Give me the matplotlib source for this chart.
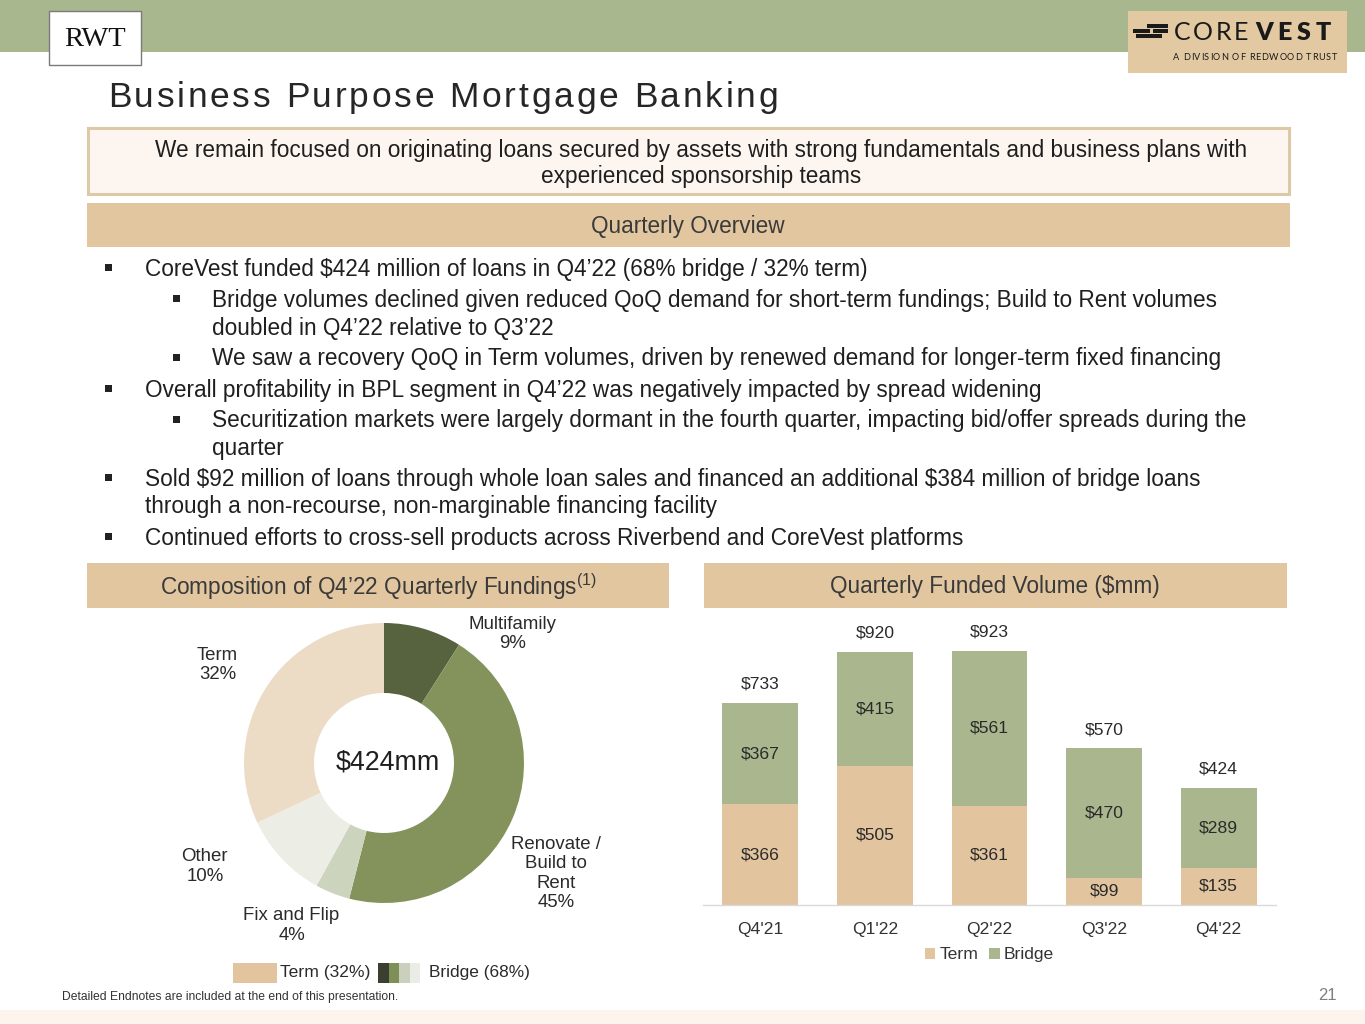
import matplotlib
matplotlib.use("Agg")
import matplotlib.pyplot as plt
from matplotlib.patches import Rectangle
import numpy as np

# ---------------- data ----------------
donut_labels = ["Multifamily", "Renovate /\nBuild to\nRent", "Fix and Flip", "Other", "Term"]
donut_values = [9, 45, 4, 10, 32]
donut_total_label = "$424mm"

quarters = ["Q4'21", "Q1'22", "Q2'22", "Q3'22", "Q4'22"]
term_vals = [366, 505, 361, 99, 135]
bridge_vals = [367, 415, 561, 470, 289]
total_vals = [733, 920, 923, 570, 424]

bullets = [
    (1, "CoreVest funded $424 million of loans in Q4\u201922 (68% bridge / 32% term)"),
    (2, "Bridge volumes declined given reduced QoQ demand for short-term fundings; Build to Rent volumes\ndoubled in Q4\u201922 relative to Q3\u201922"),
    (2, "We saw a recovery QoQ in Term volumes, driven by renewed demand for longer-term fixed financing"),
    (1, "Overall profitability in BPL segment in Q4\u201922 was negatively impacted by spread widening"),
    (2, "Securitization markets were largely dormant in the fourth quarter, impacting bid/offer spreads during the\nquarter"),
    (1, "Sold $92 million of loans through whole loan sales and financed an additional $384 million of bridge loans\nthrough a non-recourse, non-marginable financing facility"),
    (1, "Continued efforts to cross-sell products across Riverbend and CoreVest platforms"),
]

# ---------------- style ----------------
FONT = ["Liberation Sans", "DejaVu Sans"]
plt.rcParams["font.family"] = FONT
plt.rcParams["mathtext.fontset"] = "custom"
plt.rcParams["mathtext.rm"] = "Liberation Sans"
plt.rcParams["mathtext.it"] = "Liberation Sans:italic"
plt.rcParams["mathtext.bf"] = "Liberation Sans:bold"

GREEN_BAND = "#a9b78f"
TAN = "#e2c69f"
TERM_BAR = "#e2c59e"
BRIDGE_BAR = "#aab78e"
DONUT_COLORS = ["#57623f", "#83935b", "#cdd4be", "#eceee6", "#ecdcc6"]
TXT = "#1f1f1f"
HDR_TXT = "#3a3a3a"
FS = 16.3

W, H = 1365, 1024
fig = plt.figure(figsize=(W / 100, H / 100), dpi=100)
bg = fig.add_axes([0, 0, 1, 1])
bg.set_xlim(0, W)
bg.set_ylim(H, 0)
bg.axis("off")
renderer = fig.canvas.get_renderer()


def px_axes(x0, y0, x1, y1):
    return fig.add_axes([x0 / W, 1 - y1 / H, (x1 - x0) / W, (y1 - y0) / H])


def rect(x0, y0, x1, y1, fc, ec="none", lw=0, z=1):
    bg.add_patch(Rectangle((x0, y0), x1 - x0, y1 - y0, facecolor=fc, edgecolor=ec, linewidth=lw, zorder=z))


def tw(s, **kw):
    t = bg.text(0, 0, s, **kw)
    w = t.get_window_extent(renderer).width
    t.remove()
    return w


def spaced_text(x, y, s, target_w, **kw):
    natural = tw(s, **kw)
    n = len(s)
    sp = (target_w - natural) / (n - 1)
    lw_ = tw("l", **kw)
    for i, ch in enumerate(s):
        if ch == " ":
            continue
        off = 0 if i == 0 else tw(s[:i] + "l", **kw) - lw_
        bg.text(x + off + i * sp, y, ch, ha="left", **kw)


# top band
rect(0, 0, W, 52, GREEN_BAND)
# RWT box
rect(49, 11, 141, 65, "white", ec="#7a7a7a", lw=1.0, z=2)
bg.text(95, 39, "RWT", family=["Liberation Serif", "DejaVu Serif"], fontsize=20.5, ha="center", va="center",
        color="#111111", zorder=3)
# CoreVest logo box
rect(1128, 11, 1347, 73, "#e2c9a1", z=2)
for (x0, y0, x1, y1) in [(1147, 24, 1168, 27.5), (1133, 29, 1150, 32.5), (1153, 29, 1168, 32.5),
                         (1136, 34, 1162, 37.5)]:
    rect(x0, y0, x1, y1, "#1a1a1a", z=3)
logo_kw = dict(family=["Lato", "DejaVu Sans"], fontsize=18, va="baseline", color="#1a1a1a", zorder=3)
spaced_text(1174, 39.5, "CORE", 74, **logo_kw)
logo_kw_b = dict(logo_kw, fontweight="heavy")
spaced_text(1255, 39.5, "VEST", 76, **logo_kw_b)
spaced_text(1173, 60, "A DIVISION OF REDWOOD TRUST", 164,
            family=["Lato", "DejaVu Sans"], fontsize=6.6, va="baseline", color="#1a1a1a", zorder=3)

# title (letter-spaced)
spaced_text(108, 107, "Business Purpose Mortgage Banking", 670, fontsize=25.5, va="baseline", color="#262626")

# intro box
rect(88, 128, 1289, 194, "#fdf6f0", ec="#dcc9a5", lw=2.2)
bg.text(701, 150, "We remain focused on originating loans secured by assets with strong fundamentals and business plans with",
        fontsize=FS, ha="center", va="center", color=TXT)
bg.text(701, 177, "experienced sponsorship teams", fontsize=FS, ha="center", va="center", color=TXT)

# quarterly overview band
rect(87, 203, 1290, 247, TAN)
bg.text(688, 227, "Quarterly Overview", fontsize=FS, ha="center", va="center", color=HDR_TXT)

# bullets
y = 268
for level, text in bullets:
    bx = 105 if level == 1 else 173
    tx = 145 if level == 1 else 212
    rect(bx, y - 4, bx + 7, y + 3, "#222222")
    lines = text.split("\n")
    for i, ln in enumerate(lines):
        bg.text(tx, y + 1.5, ln, fontsize=FS, ha="left", va="center", color=TXT, parse_math=False)
        if i < len(lines) - 1:
            y += 27.5
    y += 31

# bottom headers
rect(87, 563, 669, 608, TAN)
bg.text(378, 587, "Composition of Q4\u201922 Quarterly Fundings$^{\\mathrm{(1)}}$", fontsize=FS, ha="center",
        va="center", color=HDR_TXT)
rect(704, 563, 1287, 608, TAN)
bg.text(995, 587, "Quarterly Funded Volume ($mm)", fontsize=FS, ha="center", va="center", color=HDR_TXT)

# ---------------- donut ----------------
dax = px_axes(244, 623, 524, 903)
dax.pie(donut_values, colors=DONUT_COLORS, startangle=90, counterclock=False, radius=1,
        wedgeprops=dict(width=0.5, edgecolor="none"))
dax.set_xlim(-1, 1)
dax.set_ylim(-1, 1)
dax.set_aspect("equal")
dax.axis("off")
dax.text(0.03, 0.0, donut_total_label, fontsize=19.3, ha="center", va="center", color="#1f1f1f")
label_pos = [(0.92, 0.92), (1.23, -0.79), (-0.66, -1.16), (-1.28, -0.74), (-1.19, 0.70)]
for lab, v, (lx, ly) in zip(donut_labels, donut_values, label_pos):
    dax.text(lx, ly, f"{lab}\n{v}%", fontsize=13.4, ha="center", va="center", color="#2a2a2a",
             linespacing=1.17, clip_on=False)

# donut legend
rect(233, 963, 277, 983, TERM_BAR)
bg.text(280, 973, f"Term ({donut_values[4]}%)", fontsize=12.6, ha="left", va="center", color="#2a2a2a")
leg_cols = ["#3b3f30", "#7f8f58", "#c9d0bb", "#eaece6"]
for i, c in enumerate(leg_cols):
    rect(378 + i * 10.5, 963, 378 + (i + 1) * 10.5, 983, c)
bg.text(429, 973, f"Bridge ({100 - donut_values[4]}%)", fontsize=12.4, ha="left", va="center", color="#2a2a2a")

# ---------------- bars ----------------
bax = px_axes(703, 620, 1276, 905)
x = np.arange(len(quarters))
bw = 0.66
bax.bar(x, term_vals, bw, color=TERM_BAR, label="Term")
bax.bar(x, bridge_vals, bw, bottom=term_vals, color=BRIDGE_BAR, label="Bridge")
bax.set_xlim(-0.5, len(quarters) - 0.5)
bax.set_ylim(0, 1035)
for s in ["top", "right", "left"]:
    bax.spines[s].set_visible(False)
bax.spines["bottom"].set_color("#d9d9d9")
bax.spines["bottom"].set_linewidth(1.0)
bax.set_yticks([])
bax.set_xticks(x)
bax.set_xticklabels(quarters, fontsize=12.6, color="#333333")
bax.tick_params(axis="x", length=0, pad=12)
bax.set_facecolor("none")
for i in range(len(quarters)):
    t, b = term_vals[i], bridge_vals[i]
    bax.text(x[i], t / 2, f"${t}", ha="center", va="center", fontsize=12.6, color="#2a2a2a")
    bax.text(x[i], t + b / 2, f"${b}", ha="center", va="center", fontsize=12.6, color="#2a2a2a")
    bax.annotate(f"${total_vals[i]}", (x[i], t + b), xytext=(0, 13.5), textcoords="offset points",
                 ha="center", va="center", fontsize=12.6, color="#2a2a2a")
leg = bax.legend(loc="center", bbox_to_anchor=(0.5, -0.175), ncol=2, frameon=False, fontsize=12.6,
                 handlelength=0.6, handleheight=0.6, handletextpad=0.25, columnspacing=0.6)
for t in leg.get_texts():
    t.set_color("#333333")

# footer
bg.text(62, 997, "Detailed Endnotes are included at the end of this presentation.", fontsize=8.7, ha="left",
        va="center", color="#333333")
bg.text(1337, 996, "21", fontsize=12, ha="right", va="center", color="#7f7f7f")
rect(0, 1010, W, H, "#fdf4ed")

fig.savefig("out.png", dpi=100)
